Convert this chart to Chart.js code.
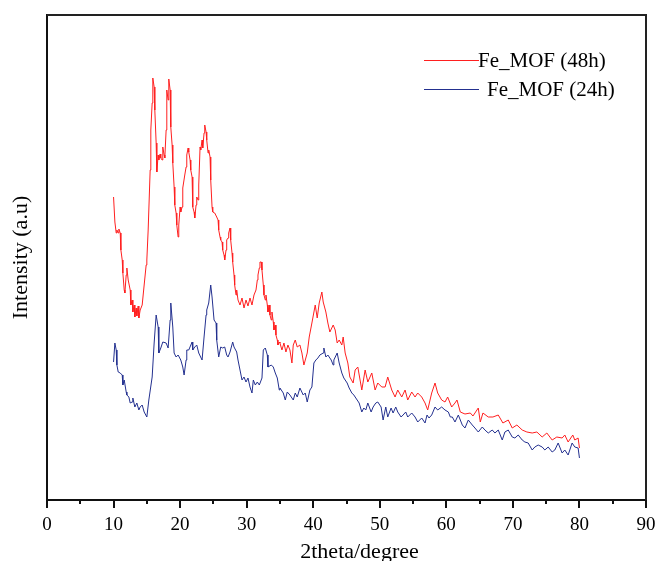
<!DOCTYPE html>
<html>
<head>
<meta charset="utf-8">
<script src="https://cdn.jsdelivr.net/npm/chart.js@4.4.1/dist/chart.umd.min.js"></script>
<style>
    html, body { margin: 0; padding: 0; background: #fff; }
    #wrap { width: 657px; height: 561px; position: relative; }
</style>
</head>
<body>
<div id="wrap"><canvas id="xrdChart"></canvas></div>
<script>
// Fe_MOF (48h) - 2theta (degree) / intensity (a.u.)
const twoTheta48 = [10.0,10.2,10.4,10.5,10.7,10.8,11.0,11.1,11.3,11.4,11.6,11.7,11.9,12.0,12.2,12.5,12.6,12.8,12.9,13.1,13.2,13.4,13.5,13.7,13.8,14.0,14.3,14.6,14.9,15.0,15.2,15.5,15.6,15.8,15.9,16.1,16.2,16.4,16.5,16.7,16.8,17.0,17.1,17.3,17.4,17.6,17.7,17.9,18.0,18.2,18.3,18.5,18.6,18.8,18.9,19.1,19.2,19.4,19.5,19.7,19.8,20.0,20.1,20.3,20.4,20.7,20.9,21.0,21.2,21.3,21.5,21.6,21.8,21.9,22.1,22.2,22.4,22.5,22.7,22.8,23.0,23.1,23.3,23.4,23.6,23.7,23.9,24.0,24.2,24.3,24.5,24.6,24.8,24.9,25.2,25.5,25.7,25.8,26.0,26.1,26.3,26.4,26.6,26.7,26.9,27.0,27.2,27.3,27.5,27.6,27.8,27.9,28.1,28.2,28.4,28.5,28.7,29.0,29.3,29.6,29.9,30.2,30.5,30.8,31.1,31.4,31.6,31.7,31.9,32.0,32.2,32.3,32.5,32.6,32.8,32.9,33.1,33.2,33.4,33.5,33.7,33.8,34.0,34.1,34.3,34.4,34.6,34.7,34.9,35.0,35.3,35.6,35.9,36.2,36.5,36.8,37.0,37.3,37.6,38.0,38.3,38.6,39.1,39.4,39.8,40.3,40.6,40.9,41.3,41.5,41.9,42.2,42.5,43.0,43.3,43.6,43.9,44.3,44.5,44.8,45.2,45.5,46.0,46.3,46.7,47.3,47.8,48.2,48.8,49.3,49.7,50.3,50.8,51.2,51.8,52.3,52.7,53.3,53.8,54.2,54.8,55.3,55.7,56.3,56.8,57.2,57.8,58.3,58.7,59.3,59.8,60.2,60.8,61.3,61.6,62.1,62.8,63.6,64.0,64.3,64.8,65.1,65.5,66.3,67.0,67.8,68.5,69.3,69.9,70.6,71.4,72.1,72.9,73.6,74.4,75.1,75.9,76.6,77.4,77.8,78.3,79.0,79.3,79.8,80.0];
const intensity48 = [303,278,267,270,267,271,267,250,240,227,210,207,225,232,220,210,195,200,188,195,183,192,184,194,182,190,195,215,235,240,270,330,370,397,422,413,390,357,328,345,340,346,342,340,353,345,342,370,410,400,421,410,373,355,337,313,295,287,275,263,275,293,288,293,312,325,333,345,352,348,340,330,323,293,288,282,295,303,300,315,353,350,360,352,367,375,368,360,347,350,343,320,293,288,287,283,280,270,263,260,258,250,245,240,250,260,262,267,272,260,247,238,225,215,205,210,200,195,202,192,200,194,202,195,205,210,220,225,232,238,238,230,215,205,200,205,195,188,195,185,180,188,178,170,175,165,160,155,158,157,150,157,148,155,150,137,155,160,153,155,147,135,147,163,177,195,182,197,208,198,188,177,168,175,170,157,160,155,163,147,137,123,117,130,133,110,130,118,127,110,117,113,113,123,110,103,110,103,110,100,108,103,107,103,97,90,107,117,107,100,98,103,93,97,100,88,86,87,84,87,92,78,87,83,83,85,77,80,72,75,70,68,67,68,63,67,60,63,62,65,58,65,60,62,52];

// Fe_MOF (24h)
const twoTheta24 = [10.0,10.2,10.4,10.5,10.7,11.0,11.3,11.4,11.6,11.9,12.0,12.3,12.5,12.8,12.9,13.2,13.5,13.8,14.0,14.3,14.6,15.0,15.3,15.8,16.1,16.4,16.7,16.8,17.1,17.4,17.9,18.2,18.5,18.6,18.9,19.1,19.4,19.7,20.1,20.4,20.6,20.9,21.0,21.3,21.8,21.9,22.2,22.5,22.8,23.3,23.6,23.9,24.0,24.3,24.6,24.8,25.1,25.4,25.5,25.8,26.1,26.4,26.7,27.0,27.2,27.5,27.9,28.1,28.5,28.7,29.0,29.3,29.6,29.9,30.2,30.5,30.8,31.0,31.3,31.6,31.9,32.3,32.5,32.8,33.1,33.2,33.7,34.0,34.3,34.6,34.9,35.0,35.5,35.8,36.1,36.5,37.0,37.3,37.6,38.0,38.5,38.8,39.1,39.5,39.8,40.1,40.4,40.7,41.0,41.5,41.6,41.9,42.2,42.7,43.0,43.1,43.6,43.9,44.3,44.6,45.1,45.4,45.8,46.1,46.6,46.9,47.3,47.6,47.9,48.2,48.7,49.0,49.4,49.7,50.2,50.5,50.9,51.2,51.7,52.0,52.4,52.7,53.2,53.5,53.9,54.2,54.8,55.3,55.7,56.3,56.8,57.1,57.4,57.8,58.3,58.7,59.3,59.8,60.3,60.6,60.9,61.3,61.8,62.4,62.8,63.3,63.9,64.3,64.8,65.4,65.8,66.3,66.9,67.3,67.8,68.4,68.8,69.3,69.9,70.3,70.8,71.4,71.8,72.3,72.9,73.3,73.8,74.4,74.8,75.3,75.9,76.3,76.8,77.4,77.8,78.3,78.9,79.3,79.8,80.0];
const intensity24 = [138,157,150,135,128,127,125,115,120,108,105,103,97,98,102,93,97,90,93,95,88,83,100,123,157,185,173,147,152,158,157,152,180,197,173,147,143,145,140,133,125,140,150,150,158,150,153,155,147,140,163,185,190,197,215,203,180,177,160,143,153,152,153,145,143,148,158,153,148,140,130,120,123,118,122,113,107,120,115,118,115,122,150,152,145,133,135,133,127,122,110,112,107,100,108,105,100,107,103,112,105,107,98,110,113,137,140,142,145,147,152,143,145,140,135,140,147,137,127,122,117,112,107,105,100,97,88,92,90,97,88,93,97,98,93,80,93,83,92,87,93,88,83,85,88,83,87,83,78,82,77,85,82,85,93,90,93,90,88,83,83,78,85,75,72,80,75,72,68,73,70,67,70,67,70,60,68,70,63,62,65,60,58,57,50,53,55,53,50,53,48,50,57,47,50,45,57,53,52,42];

const seriesLabels = ['Fe_MOF (48h)', 'Fe_MOF (24h)'];
const seriesColors = ['#ff1f1f', '#23308f'];
const xTicks = [0, 10, 20, 30, 40, 50, 60, 70, 80, 90];

const FONT = '"Liberation Serif", "Times New Roman", serif';

function toPoints(xs, ys) {
    let pts = [];
    for (let i = 0; i < xs.length; i++) {
        pts.push({ x: xs[i], y: ys[i] });
    }
    return pts;
}

// box, minor ticks, legend and x title
const framePlugin = {
    id: 'frame',
    afterDraw: function (chart) {
        const ctx = chart.ctx;
        const area = chart.chartArea;
        const xs = chart.scales.x;
        ctx.save();
        ctx.strokeStyle = '#222';
        ctx.lineWidth = 2;
        ctx.beginPath();
        ctx.moveTo(area.left, area.top);
        ctx.lineTo(area.right, area.top);
        ctx.lineTo(area.right, area.bottom);
        ctx.stroke();

        ctx.strokeStyle = '#111';
        ctx.lineWidth = 2;
        for (let v = 0; v <= 90; v += 5) {
            const px = Math.round(xs.getPixelForValue(v));
            const len = v % 10 === 0 ? 8 : 4;
            ctx.beginPath();
            ctx.moveTo(px, area.bottom);
            ctx.lineTo(px, area.bottom + len);
            ctx.stroke();
        }

        // legend
        const lx = area.left + 377;
        const rows = [area.top + 45, area.top + 74];
        const textX = [lx + 54, lx + 63];
        ctx.lineWidth = 1;
        ctx.font = '21px ' + FONT;
        ctx.textBaseline = 'middle';
        ctx.fillStyle = '#000';
        for (let i = 0; i < seriesLabels.length; i++) {
            ctx.strokeStyle = seriesColors[i];
            ctx.beginPath();
            ctx.moveTo(lx, rows[i] + 0.5);
            ctx.lineTo(lx + 55, rows[i] + 0.5);
            ctx.stroke();
            ctx.fillText(seriesLabels[i], textX[i], rows[i] + 1);
        }

        // x axis title
        ctx.font = '22px ' + FONT;
        ctx.textAlign = 'center';
        ctx.fillText('2theta/degree', (area.left + area.right) / 2 + 13, 552);
        ctx.restore();
    }
};

window.addEventListener('load', function () {
    const ctx = document.getElementById('xrdChart');
    new Chart(ctx, {
        type: 'line',
        data: {
            datasets: [
                {
                    label: seriesLabels[0],
                    data: toPoints(twoTheta48, intensity48),
                    borderColor: seriesColors[0],
                    borderWidth: 1,
                    pointRadius: 0,
                    tension: 0,
                    fill: false
                },
                {
                    label: seriesLabels[1],
                    data: toPoints(twoTheta24, intensity24),
                    borderColor: seriesColors[1],
                    borderWidth: 1,
                    pointRadius: 0,
                    tension: 0,
                    fill: false
                }
            ]
        },
        options: {
            responsive: true,
            maintainAspectRatio: false,
            animation: false,
            layout: { padding: { top: 15, right: 11, left: 0, bottom: 0 } },
            plugins: {
                legend: { display: false },
                tooltip: { enabled: false }
            },
            scales: {
                x: {
                    type: 'linear',
                    min: 0,
                    max: 90,
                    afterFit: function (scale) {
                        scale.height = 61;
                        scale.paddingLeft = 0;
                        scale.paddingRight = 0;
                    },
                    afterBuildTicks: function (scale) {
                        scale.ticks = xTicks.map(v => ({ value: v }));
                    },
                    ticks: {
                        color: '#000',
                        font: { family: FONT, size: 19 },
                        padding: 14,
                        maxRotation: 0,
                        autoSkip: false
                    },
                    grid: { display: true, drawOnChartArea: false, drawTicks: false },
                    border: { display: true, color: '#111', width: 2 }
                },
                y: {
                    min: 0,
                    max: 485,
                    afterFit: function (scale) { scale.width = 47; },
                    ticks: { display: false },
                    grid: { display: false, drawTicks: false },
                    border: { display: true, color: '#111', width: 2 },
                    title: {
                        display: true,
                        text: 'Intensity (a.u)',
                        color: '#000',
                        font: { family: FONT, size: 22 },
                        padding: { top: 8, bottom: 0 }
                    }
                }
            }
        },
        plugins: [framePlugin]
    });
});
</script>
</body>
</html>
